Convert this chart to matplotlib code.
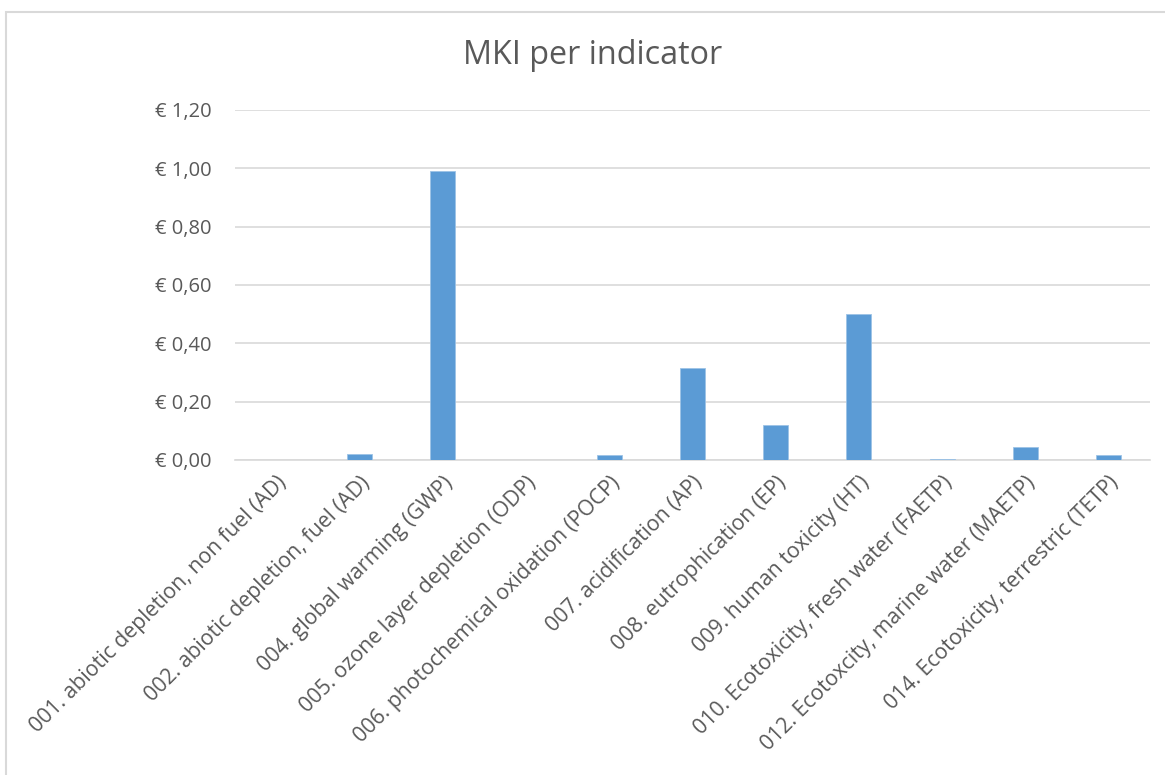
import matplotlib
matplotlib.use("Agg")
import matplotlib.pyplot as plt
from matplotlib.patches import Rectangle

categories = [
    "001. abiotic depletion, non fuel (AD)",
    "002. abiotic depletion, fuel (AD)",
    "004. global warming (GWP)",
    "005. ozone layer depletion (ODP)",
    "006. photochemical oxidation (POCP)",
    "007. acidification (AP)",
    "008. eutrophication (EP)",
    "009. human toxicity (HT)",
    "010. Ecotoxicity, fresh water (FAETP)",
    "012. Ecotoxcity, marine water (MAETP)",
    "014. Ecotoxicity, terrestric (TETP)",
]
values = [0.0005, 0.020, 0.992, 0.0003, 0.018, 0.316, 0.121, 0.500, 0.003, 0.046, 0.017]
yticks = [0.0, 0.2, 0.4, 0.6, 0.8, 1.0, 1.2]
ytick_labels = ["€ 0,00", "€ 0,20", "€ 0,40", "€ 0,60", "€ 0,80", "€ 1,00", "€ 1,20"]

plt.rcParams['font.family'] = ['Open Sans', 'DejaVu Sans']
text_color = "#595959"

fig = plt.figure(figsize=(11.65, 7.75), dpi=100)
fig.patches.append(Rectangle((6/1165, -0.01), 1.02, 1 - 12/775 + 0.01, transform=fig.transFigure,
                             fill=False, edgecolor="#d9d9d9", linewidth=1.5))

ax = fig.add_axes([235/1165, 1 - 460/775, (1150 - 235)/1165, (460 - 110)/775])
x = list(range(len(categories)))
ax.bar(x, values, width=0.3, color="#5b9bd5", edgecolor="#9dc3e6", linewidth=0.6, zorder=3)
ax.set_xlim(-0.5, len(categories) - 0.5)
ax.set_ylim(0, 1.2)
ax.set_yticks(yticks)
ax.set_yticklabels(ytick_labels, fontsize=14.5, color=text_color)
ax.set_xticks(x)
ax.set_xticklabels(categories, rotation=45, ha="right", va="top", rotation_mode="anchor",
                   fontsize=15.3, color=text_color)
ax.tick_params(axis="both", length=0)
ax.tick_params(axis="y", pad=17)
ax.tick_params(axis="x", pad=9)
ax.grid(axis="y", color="#d9d9d9", linewidth=1.2, zorder=0)
for s in ["top", "right", "left"]:
    ax.spines[s].set_visible(False)
ax.spines["bottom"].set_color("#d9d9d9")
ax.spines["bottom"].set_linewidth(1.2)

fig.text(593/1165, 1 - 55/775, "MKI per indicator", ha="center", va="center",
         fontsize=23.3, color=text_color)

fig.savefig("out.png", dpi=100)
